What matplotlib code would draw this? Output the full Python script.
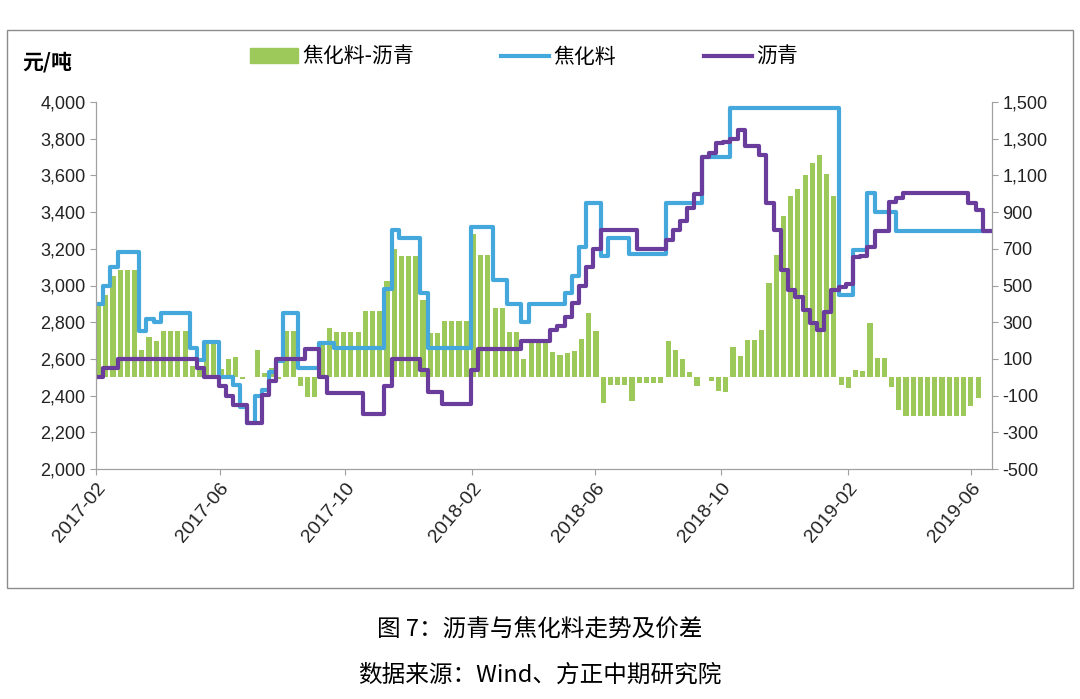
import numpy as np
import pandas as pd
import matplotlib
matplotlib.use("Agg")
import matplotlib.pyplot as plt
import matplotlib.dates as mdates
from matplotlib.patches import Rectangle, Patch
from matplotlib.lines import Line2D
from matplotlib.ticker import FuncFormatter, MultipleLocator

plt.rcParams['font.family'] = ['Noto Sans CJK SC', 'DejaVu Sans']

# weekly data, first week starting 2017-02-01
WEEK_START = "2017-02-01"

# 焦化料 (元/吨)
coking = [2900, 3000, 3100, 3185, 3185, 3185, 2750, 2820, 2800, 2850,
          2850, 2850, 2850, 2660, 2595, 2690, 2690, 2500, 2500, 2460,
          2340, 2250, 2400, 2430, 2530, 2590, 2850, 2850, 2550, 2550,
          2550, 2685, 2685, 2660, 2660, 2660, 2660, 2660, 2660, 2660,
          2980, 3300, 3260, 3260, 3260, 2960, 2660, 2660, 2660, 2660,
          2660, 2660, 3320, 3320, 3320, 3030, 3030, 2900, 2900, 2800,
          2900, 2900, 2900, 2900, 2900, 2960, 3050, 3210, 3450, 3450,
          3160, 3260, 3260, 3260, 3170, 3170, 3170, 3170, 3170, 3450,
          3450, 3450, 3450, 3450, 3700, 3700, 3700, 3700, 3965, 3965,
          3965, 3965, 3965, 3965, 3965, 3965, 3965, 3965, 3965, 3965,
          3965, 3965, 3965, 2950, 2950, 3195, 3195, 3505, 3400, 3400,
          3400, 3295, 3295, 3295, 3295, 3295, 3295, 3295, 3295, 3295,
          3295, 3295, 3295, 3295]

# 沥青 (元/吨)
asphalt = [2500, 2550, 2550, 2600, 2600, 2600, 2600, 2600, 2600, 2600,
           2600, 2600, 2600, 2600, 2550, 2500, 2500, 2455, 2400, 2350,
           2350, 2250, 2250, 2405, 2480, 2600, 2600, 2600, 2600, 2655,
           2655, 2500, 2415, 2415, 2415, 2415, 2415, 2300, 2300, 2300,
           2455, 2600, 2600, 2600, 2600, 2540, 2420, 2420, 2355, 2355,
           2355, 2355, 2540, 2655, 2655, 2655, 2655, 2655, 2655, 2700,
           2700, 2700, 2700, 2760, 2780, 2830, 2905, 3000, 3100, 3200,
           3300, 3300, 3300, 3300, 3300, 3200, 3200, 3200, 3200, 3250,
           3300, 3350, 3420, 3500, 3700, 3720, 3775, 3780, 3800, 3850,
           3760, 3760, 3710, 3450, 3300, 3085, 2975, 2940, 2865, 2795,
           2755, 2855, 2975, 2990, 3010, 3155, 3160, 3210, 3295, 3295,
           3455, 3475, 3505, 3505, 3505, 3505, 3505, 3505, 3505, 3505,
           3505, 3450, 3410, 3295]

GREEN = "#9DC85A"
BLUE = "#45A8DD"
PURPLE = "#6A3C9C"
AXIS_GRAY = "#A0A0A0"

weeks = pd.date_range(WEEK_START, periods=len(coking), freq="7D")
spread = np.array(coking) - np.array(asphalt)
edges = weeks.append(pd.DatetimeIndex([weeks[-1] + pd.Timedelta(days=7)]))

fig = plt.figure(figsize=(10.8, 6.99), dpi=100)
ax = fig.add_axes([96 / 1080, 1 - 469 / 699, (992 - 96) / 1080, (469 - 102) / 699])
ax2 = ax.twinx()
ax.set_zorder(ax2.get_zorder() + 1)
ax.patch.set_visible(False)

ax2.bar(weeks, spread, width=5, align="edge", color=GREEN, linewidth=0)
ax.plot(edges, coking + [coking[-1]], drawstyle="steps-post", color=BLUE, lw=3)
ax.plot(edges, asphalt + [asphalt[-1]], drawstyle="steps-post", color=PURPLE, lw=3)

ax.set_ylim(2000, 4000)
ax2.set_ylim(-500, 1500)
ax.yaxis.set_major_locator(MultipleLocator(200))
ax2.set_yticks(np.arange(-500, 1501, 200))
fmt = FuncFormatter(lambda v, p: f"{v:,.0f}")
ax.yaxis.set_major_formatter(fmt)
ax2.yaxis.set_major_formatter(fmt)

ax.set_xlim(pd.Timestamp("2017-02-01"), pd.Timestamp("2019-06-21"))
ax.xaxis.set_major_locator(mdates.MonthLocator(bymonth=(2, 6, 10)))
ax.xaxis.set_major_formatter(mdates.DateFormatter("%Y-%m"))

tick_font = ["Liberation Sans", "DejaVu Sans"]
for a in (ax, ax2):
    for s in a.spines.values():
        s.set_color(AXIS_GRAY)
    a.spines["top"].set_visible(False)
    a.tick_params(colors=AXIS_GRAY, labelcolor="#222222", labelsize=13, length=4)
    for lab in a.get_yticklabels():
        lab.set_family(tick_font)
for lab in ax.get_xticklabels():
    lab.set_family(tick_font)
    lab.set_fontsize(14)
    lab.set_rotation(50)
    lab.set_ha("right")
    lab.set_rotation_mode("anchor")

handles = [Patch(color=GREEN),
           Line2D([], [], color=BLUE, lw=3),
           Line2D([], [], color=PURPLE, lw=3)]
fig.legend(handles, ["焦化料-沥青", "焦化料", "沥青"], loc="center",
           bbox_to_anchor=(0.485, 1 - 57 / 699), ncol=3, frameon=False,
           fontsize=15, handlelength=2.3, columnspacing=4.2, handletextpad=0.2)

fig.text(22 / 1080, 1 - 62 / 699, "元/吨", fontsize=15, fontweight="bold", va="center")

fig.add_artist(Rectangle((7 / 1080, 1 - 588 / 699), (1073 - 7) / 1080, (588 - 30) / 699,
                         transform=fig.transFigure, fill=False, edgecolor="#8C8C8C", lw=1))

fig.text(0.5, 1 - 630 / 699, "图 7：沥青与焦化料走势及价差", ha="center", va="center", fontsize=17)
fig.text(0.5, 1 - 675 / 699, "数据来源：Wind、方正中期研究院", ha="center", va="center", fontsize=17)

fig.savefig("out.png", dpi=100)
